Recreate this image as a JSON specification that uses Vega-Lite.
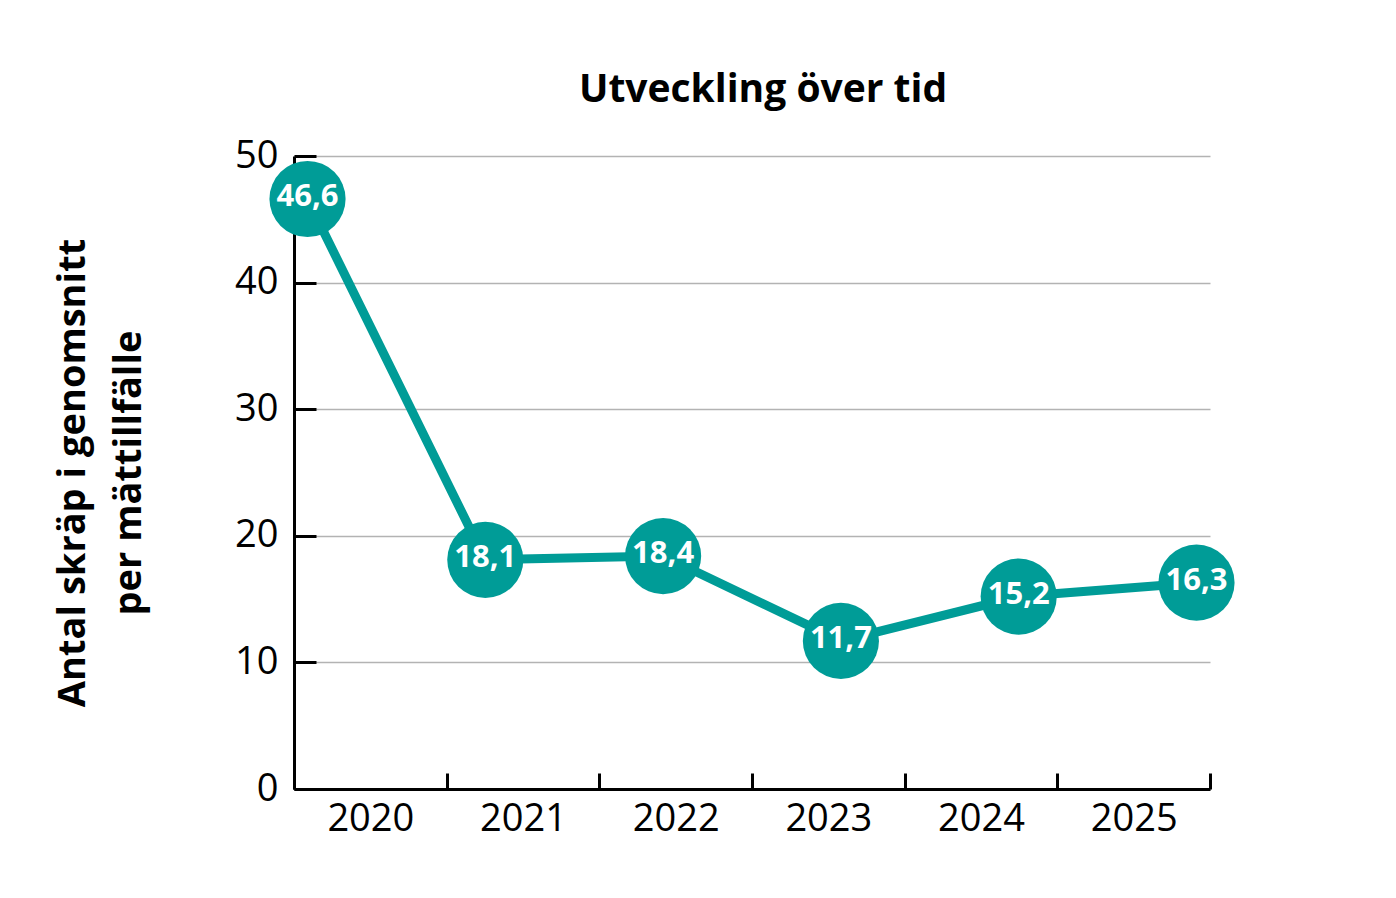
{
  "$schema": "https://vega.github.io/schema/vega-lite/v6.json",
  "width": 916,
  "height": 633,
  "autosize": "none",
  "padding": {"left": 294, "top": 156, "right": 186, "bottom": 109},
  "background": "white",
  "config": {
    "font": "Open Sans",
    "view": {"stroke": null},
    "locale": {
      "number": {"decimal": ",", "thousands": " ", "grouping": [3], "currency": ["", " kr"]}
    }
  },
  "title": {
    "text": "Utveckling över tid",
    "fontSize": 39,
    "fontWeight": "bold",
    "color": "black",
    "anchor": "middle",
    "dx": 11,
    "offset": 27
  },
  "data": {
    "values": [
      {"year": "2020", "value": 46.6},
      {"year": "2021", "value": 18.1},
      {"year": "2022", "value": 18.4},
      {"year": "2023", "value": 11.7},
      {"year": "2024", "value": 15.2},
      {"year": "2025", "value": 16.3}
    ]
  },
  "encoding": {
    "y": {
      "field": "value",
      "type": "quantitative",
      "scale": {"domain": [0, 50], "nice": false, "zero": true},
      "axis": {
        "values": [0, 10, 20, 30, 40, 50],
        "title": ["Antal skräp i genomsnitt", "per mättillfälle"],
        "titleFontSize": 38,
        "titleFontWeight": "bold",
        "titleColor": "black",
        "titleLineHeight": 56,
        "titlePadding": 86,
        "labelFontSize": 38,
        "labelColor": "black",
        "labelPadding": 38,
        "tickSize": -22,
        "tickWidth": 3,
        "tickColor": "black",
        "domainColor": "black",
        "domainWidth": 3,
        "grid": true,
        "gridColor": "#b3b3b3",
        "gridWidth": 1.5
      }
    }
  },
  "layer": [
    {
      "mark": {"type": "point", "opacity": 0},
      "encoding": {
        "x": {
          "field": "year",
          "type": "ordinal",
          "scale": {"type": "band", "paddingInner": 0, "paddingOuter": 0},
          "axis": {
            "title": null,
            "labelAngle": 0,
            "labelFontSize": 38,
            "labelColor": "black",
            "labelPadding": 27,
            "tickBand": "extent",
            "tickSize": -16,
            "tickWidth": 3,
            "tickColor": "black",
            "domainColor": "black",
            "domainWidth": 3,
            "grid": false
          }
        }
      }
    },
    {
      "encoding": {
        "x": {
          "field": "year",
          "type": "ordinal",
          "scale": {"type": "point", "padding": 0.076},
          "axis": null
        }
      },
      "layer": [
        {
          "mark": {"type": "line", "color": "#009c97", "strokeWidth": 9}
        },
        {
          "mark": {"type": "circle", "color": "#009c97", "opacity": 1, "size": 5800}
        },
        {
          "mark": {
            "type": "text",
            "color": "white",
            "fontSize": 31,
            "fontWeight": "bold",
            "baseline": "middle",
            "dy": -2
          },
          "encoding": {
            "text": {"field": "value", "type": "quantitative", "format": ".1f"}
          }
        }
      ]
    }
  ],
  "resolve": {"scale": {"x": "independent"}}
}
